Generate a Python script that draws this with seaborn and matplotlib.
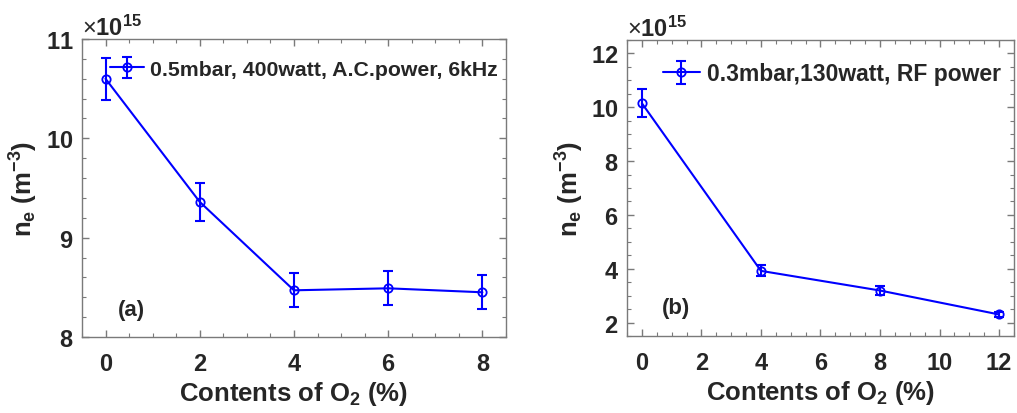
# n_e versus O2 content, two panels (a) and (b)

import numpy as np
import pandas as pd
import matplotlib as mpl
from matplotlib import pyplot as plt
from matplotlib.ticker import MultipleLocator, ScalarFormatter
from matplotlib.legend_handler import HandlerTuple
from matplotlib.lines import Line2D
import seaborn as sns

# panel (a): 0.5 mbar, 400 W, A.C. power, 6 kHz
o2_a = [0, 2, 4, 6, 8]
ne_a = [10.60e15, 9.36e15, 8.47e15, 8.49e15, 8.45e15]
err_a = [0.21e15, 0.19e15, 0.17e15, 0.17e15, 0.17e15]
label_a = '0.5mbar, 400watt, A.C.power, 6kHz'

# panel (b): 0.3 mbar, 130 W, RF power
o2_b = [0, 4, 8, 12]
ne_b = [10.15e15, 3.92e15, 3.19e15, 2.30e15]
err_b = [0.52e15, 0.20e15, 0.15e15, 0.08e15]
label_b = '0.3mbar,130watt, RF power'

sns.set_style('ticks')
plt.rcParams['font.family'] = ['Liberation Sans', 'DejaVu Sans']
plt.rcParams['font.weight'] = 'bold'
plt.rcParams['mathtext.fontset'] = 'custom'
plt.rcParams['mathtext.rm'] = 'Liberation Sans:weight=normal'
plt.rcParams['mathtext.bf'] = 'Liberation Sans:bold'
plt.rcParams['mathtext.it'] = 'Liberation Sans:italic'

blue = '#0000ff'
spine = '#7a7a7a'


class Fixed15(ScalarFormatter):
    # always show the axis in units of 1e15
    def _set_order_of_magnitude(self):
        self.orderOfMagnitude = 15


fig = plt.figure(figsize=(10.17, 4.14), dpi=100)
ax1 = fig.add_axes([0.0806, 0.1836, 0.4169, 0.7198])
ax2 = fig.add_axes([0.6165, 0.186, 0.3805, 0.715])


def draw(ax, x, y, err):
    df = pd.DataFrame({'o2': x, 'ne': y})
    sns.lineplot(data=df, x='o2', y='ne', ax=ax, color=blue, lw=1.5,
                 marker='o', markersize=6, markerfacecolor='none',
                 markeredgecolor=blue, markeredgewidth=1.3, legend=False)
    ec = ax.errorbar(x, y, yerr=err, fmt='none', ecolor=blue,
                     elinewidth=1.5, capsize=3.5, capthick=1.5)
    h = Line2D([], [], color=blue, lw=1.5, marker='o', markersize=6,
               markerfacecolor='none', markeredgecolor=blue, markeredgewidth=1.3)
    return (h, ec)


ha = draw(ax1, o2_a, ne_a, err_a)
hb = draw(ax2, o2_b, ne_b, err_b)

ax1.set_xlim(-0.5, 8.5)
ax1.set_ylim(8e15, 11e15)
ax1.xaxis.set_major_locator(MultipleLocator(2))
ax1.xaxis.set_minor_locator(MultipleLocator(0.5))
ax1.yaxis.set_major_locator(MultipleLocator(1e15))
ax1.yaxis.set_minor_locator(MultipleLocator(0.2e15))

ax2.set_xlim(-0.5, 12.5)
ax2.set_ylim(1.5e15, 12.5e15)
ax2.xaxis.set_major_locator(MultipleLocator(2))
ax2.xaxis.set_minor_locator(MultipleLocator(0.5))
ax2.yaxis.set_major_locator(MultipleLocator(2e15))
ax2.yaxis.set_minor_locator(MultipleLocator(0.5e15))

panels = [(ax1, ha, label_a, (0.066, 0.93), 1.6, 15.3),
          (ax2, hb, label_b, (0.093, 0.925), 1.6, 16.5)]
for ax, h, lab, anchor, hl, lfs in panels:
    fmt = Fixed15(useMathText=True)
    fmt.set_useOffset(False)
    ax.yaxis.set_major_formatter(fmt)
    ax.yaxis.offsetText.set_fontsize(17)
    ax.tick_params(which='both', direction='in', top=True, right=True,
                   color=spine, labelsize=17)
    ax.tick_params(axis='x', pad=11)
    ax.tick_params(axis='y', pad=6)
    ax.tick_params(which='major', length=5, width=1)
    ax.tick_params(which='minor', length=3, width=0.8)
    for s in ax.spines.values():
        s.set_color(spine)
        s.set_linewidth(1)
    ax.set_xlabel(r'Contents of O$_\mathbf{2}$ (%)', fontsize=18.5,
                  fontweight='bold', labelpad=3)
    ax.set_ylabel(r'n$_\mathbf{e}$ (m$^\mathbf{-3}$)', fontsize=18.5,
                  fontweight='bold')
    ax.legend([h], [lab], handler_map={tuple: HandlerTuple(ndivide=1)},
              loc='upper left', bbox_to_anchor=anchor, frameon=False,
              fontsize=lfs, handlelength=hl, handletextpad=0.3,
              borderaxespad=0, borderpad=0)

ax1.text(0.55, 8.28e15, '(a)', fontsize=16, fontweight='bold',
         ha='center', va='center')
ax2.text(1.15, 2.56e15, '(b)', fontsize=16, fontweight='bold',
         ha='center', va='center')

fig.savefig('out.png', dpi=100)
